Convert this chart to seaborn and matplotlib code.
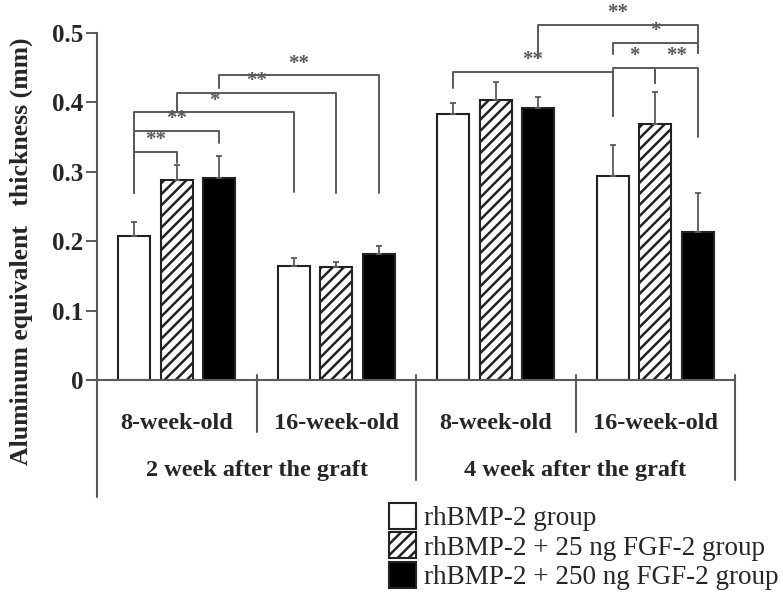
import numpy as np
import pandas as pd
import seaborn as sns
import matplotlib.pyplot as plt
import matplotlib.patches as mpatches

sns.set_style('white')
plt.rcParams['font.family'] = ['Liberation Serif', 'DejaVu Serif']
plt.rcParams['hatch.linewidth'] = 1.8

# data
groups = ['2w-8', '2w-16', '4w-8', '4w-16']
age_labels = ['8-week-old', '16-week-old', '8-week-old', '16-week-old']
period_labels = ['2 week after the graft', '4 week after the graft']
series = ['rhBMP-2 group', 'rhBMP-2 + 25 ng FGF-2 group', 'rhBMP-2 + 250 ng FGF-2 group']

rh = [0.207, 0.164, 0.383, 0.294]
fgf25 = [0.288, 0.163, 0.403, 0.369]
fgf250 = [0.291, 0.182, 0.392, 0.213]

rh_sd = [0.021, 0.012, 0.016, 0.045]
fgf25_sd = [0.022, 0.007, 0.027, 0.046]
fgf250_sd = [0.032, 0.011, 0.016, 0.056]

# significance brackets: (group, series) -> (group, series), bar height, left leg end, right leg end, label
brackets = [
    ((0, 0), (0, 1), 0.329, 0.270, 0.313, '**'),
    ((0, 0), (0, 2), 0.359, 0.329, 0.341, '**'),
    ((0, 0), (1, 0), 0.386, 0.270, 0.271, '*'),
    ((0, 1), (1, 1), 0.414, 0.386, 0.270, '**'),
    ((0, 2), (1, 2), 0.439, 0.421, 0.270, '**'),
    ((2, 0), (3, 0), 0.444, 0.421, 0.380, '**'),
    ((2, 2), (3, 2), 0.512, 0.464, 0.471, '**'),
    ((3, 0), (3, 2), 0.486, 0.470, 0.471, '*'),
    ((3, 0), (3, 1), 0.450, 0.380, 0.428, '*'),
    ((3, 1), (3, 2), 0.450, 0.428, 0.350, '**'),
]

df = pd.DataFrame({
    'group': groups * 3,
    'series': np.repeat(series, 4),
    'value': rh + fgf25 + fgf250,
})
sds = [rh_sd, fgf25_sd, fgf250_sd]

line_col = '#5a5a5a'
fig = plt.figure(figsize=(7.83, 6.03), dpi=100)
ax = fig.add_axes([97 / 783, 1 - 380 / 603, 638 / 783, 347 / 603])

sns.barplot(data=df, x='group', y='value', hue='series', order=groups, hue_order=series,
            palette=['white', 'white', 'black'], width=0.8, gap=0.25,
            errorbar=None, legend=False, edgecolor='#222222', linewidth=1.5, ax=ax)

bar_sets = list(ax.containers)[:3]
for bar in bar_sets[1]:
    bar.set_hatch('///')

centers = []
for i, cont in enumerate(bar_sets):
    xs = [b.get_x() + b.get_width() / 2 for b in cont]
    hs = [b.get_height() for b in cont]
    centers.append(xs)
    ax.errorbar(xs, hs, yerr=[np.zeros(4), sds[i]], fmt='none', ecolor=line_col,
                elinewidth=1.3, capsize=2.5, capthick=1.3, zorder=1)

for a, b, h, lb, rb, lab in brackets:
    xa = centers[a[1]][a[0]]
    xb = centers[b[1]][b[0]]
    ax.plot([xa, xa, xb, xb], [lb, h, h, rb], color=line_col, lw=1.4, clip_on=False)
    ax.text((xa + xb) / 2, h + 0.002, lab, ha='center', va='bottom', color=line_col,
            fontsize=15, fontweight='bold')

ax.set_xlim(-0.5, 3.5)
ax.set_ylim(0, 0.5)
ax.set_yticks([0, 0.1, 0.2, 0.3, 0.4, 0.5])
ax.set_yticklabels(['0', '0.1', '0.2', '0.3', '0.4', '0.5'], fontsize=18, fontweight='bold')
ax.tick_params(axis='y', direction='out', length=8, width=1.4, color=line_col, left=True, pad=2)
ax.set_xticks(range(4))
ax.set_xticklabels(age_labels, fontsize=17.5, fontweight='bold')
ax.tick_params(axis='x', length=0, pad=24)

for s in ['top', 'right']:
    ax.spines[s].set_visible(False)
for s in ['left', 'bottom']:
    ax.spines[s].set_color(line_col)
    ax.spines[s].set_linewidth(1.5)

# separators below the axis
ax.plot([-0.56, -0.5], [0, 0], color=line_col, lw=1.5, clip_on=False)
ax.plot([-0.5, -0.5], [0, -0.168], color=line_col, lw=1.5, clip_on=False)
for xd, y0, y1 in [(0.5, 0.007, -0.075), (1.5, 0.007, -0.144), (2.5, 0.007, -0.075), (3.5, 0.007, -0.144)]:
    ax.plot([xd, xd], [y0, y1], color=line_col, lw=1.5, clip_on=False)

for xc, lab in zip([0.5, 2.5], period_labels):
    ax.text(xc, -0.13, lab, ha='center', va='center', fontsize=17.5, fontweight='bold', clip_on=False)

ax.set_xlabel('')
ax.set_ylabel('Aluminum equivalent   thickness (mm)', fontsize=18.5, fontweight='bold')
ax.yaxis.set_label_coords(-0.1, 0.37)

handles = [
    mpatches.Patch(facecolor='white', edgecolor='#222222', lw=1.5),
    mpatches.Patch(facecolor='white', edgecolor='#222222', lw=1.5, hatch='///'),
    mpatches.Patch(facecolor='black', edgecolor='#222222', lw=1.5),
]
fig.legend(handles, series, loc='upper left', bbox_to_anchor=(378 / 783, 1 - 492 / 603),
           frameon=False, fontsize=19.5, handlelength=1.0, handleheight=1.1,
           handletextpad=0.3, labelspacing=0.05, borderaxespad=0)

fig.savefig('out.png', dpi=100)
